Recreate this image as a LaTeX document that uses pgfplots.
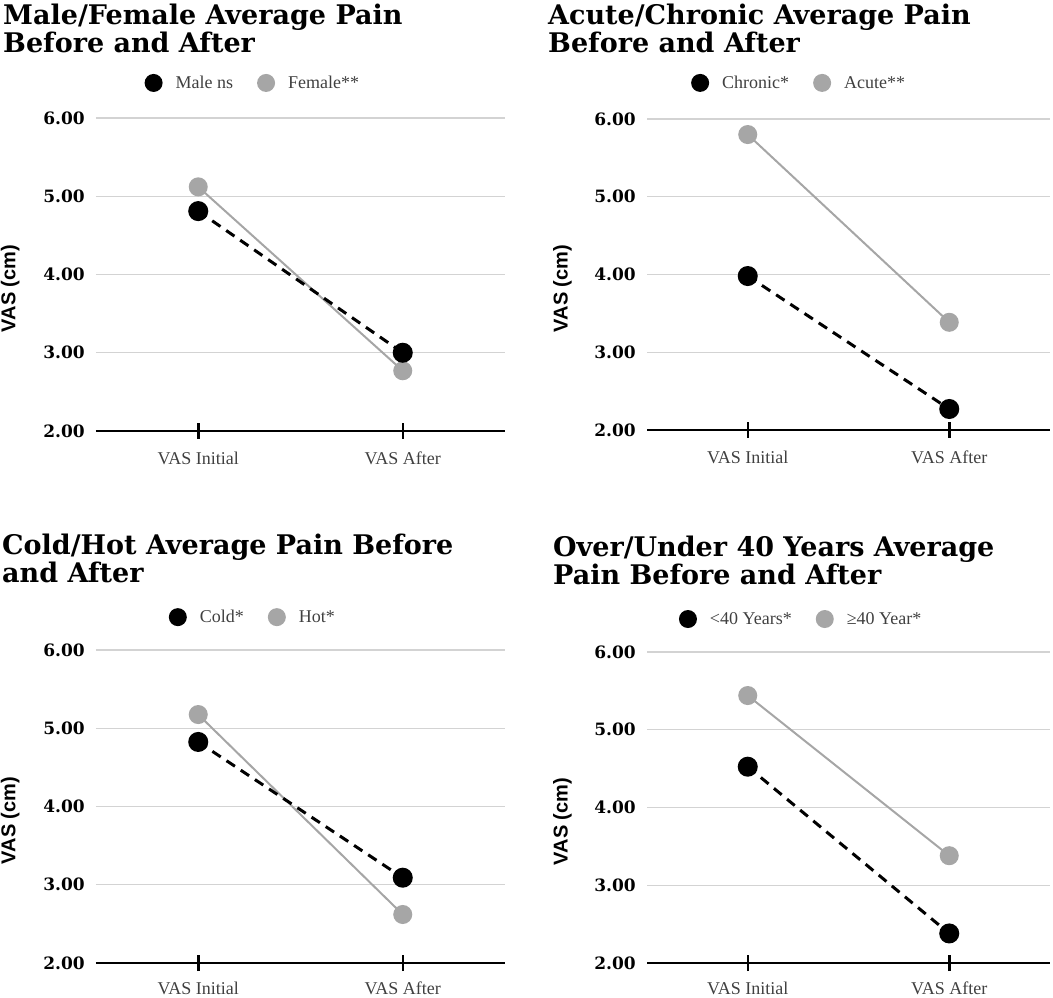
\documentclass[border=0pt]{standalone}
\usepackage{fontspec}
\setmainfont{Liberation Serif}
\newfontfamily\titlefont{DejaVu Serif}
\newfontfamily\labfont{Liberation Sans}
\usepackage{pgfplots}
\pgfplotsset{compat=1.18}
\definecolor{lgray}{HTML}{A6A6A6}
\definecolor{gridc}{HTML}{D3D3D3}
\definecolor{txtc}{HTML}{404040}

\pgfplotsset{
 panel/.style={
  scale only axis,
  xmin=-0.5, xmax=1.5, ymin=2, ymax=6,
  axis lines*=left,
  y axis line style={draw=none},
  x axis line style={line width=2pt, black},
  xtick={0,1}, xticklabels={VAS Initial,VAS After},
  xtick align=center,
  xtick style={black, line width=2.5pt, /pgfplots/major tick length=16pt},
  ytick={2,3,4,5,6}, yticklabels={2.00,3.00,4.00,5.00,6.00},
  ytick style={draw=none},
  ymajorgrids, grid style={line width=1.3pt, gridc},
  xticklabel style={font=\fontsize{18}{18}\selectfont, text=txtc, inner sep=0pt, text height=12pt, text depth=0pt, anchor=north, yshift=-19pt},
  yticklabel style={font=\titlefont\bfseries\fontsize{17}{17}\selectfont, inner sep=0pt, anchor=east, xshift=-11pt},
  every axis y label/.style={at={(axis description cs:-0.21,0.455)}, rotate=90, anchor=center},
  ylabel={VAS (cm)},
  ylabel style={font=\labfont\bfseries\fontsize{20}{20}\selectfont, inner sep=0pt},
  legend columns=2,
  legend style={draw=none, fill=none, font=\fontsize{18}{18}\selectfont, text=txtc, anchor=center, column sep=13pt, nodes={inner sep=0pt}, /tikz/every even column/.append style={column sep=24pt}},
  legend image code/.code={\fill[##1, draw=none] (0pt,0pt) circle (9pt);},
  clip=false,
 },
 bottomrow/.style={xticklabel style={yshift=2pt}},
 blk/.style={black, line width=3pt, dash pattern=on 10pt off 7pt, mark=*, mark size=8.5pt, mark options={solid, fill=black, draw=none}},
 gry/.style={lgray, line width=2pt, mark=*, mark size=8.5pt, mark options={solid, fill=lgray, draw=none}},
}
\newcommand{\ttl}[3]{\node[anchor=base west, inner sep=0pt, font=\titlefont\bfseries\fontsize{27}{27}\selectfont] at (#1,#2) {#3};}

\begin{document}
\begin{tikzpicture}[x=1pt,y=1pt]
\useasboundingbox (0,0) rectangle (1053,997);

\ttl{3}{972}{Male/Female Average Pain}
\ttl{3}{944}{Before and After}
\ttl{548}{972}{Acute/Chronic Average Pain}
\ttl{548}{944}{Before and After}
\ttl{2}{442}{Cold/Hot Average Pain Before}
\ttl{2}{414}{and After}
\ttl{553}{440}{Over/Under 40 Years Average}
\ttl{553}{412}{Pain Before and After}

% Panel 1
\begin{axis}[panel, at={(96pt,566pt)}, anchor=south west, width=409pt, height=313pt,
  legend style={at={(axis description cs:0.381,1.112)}}]
\addlegendimage{fill=black}\addlegendentry{Male ns}
\addlegendimage{fill=lgray}\addlegendentry{Female**}
\addplot[gry, forget plot] coordinates {(0,5.12) (1,2.77)};
\addplot[blk, forget plot] coordinates {(0,4.81) (1,3.00)};
\end{axis}

% Panel 2
\begin{axis}[panel, at={(647pt,567pt)}, anchor=south west, width=403pt, height=311pt,
  legend style={at={(axis description cs:0.375,1.116)}}]
\addlegendimage{fill=black}\addlegendentry{Chronic*}
\addlegendimage{fill=lgray}\addlegendentry{Acute**}
\addplot[gry, forget plot] coordinates {(0,5.80) (1,3.385)};
\addplot[blk, forget plot] coordinates {(0,3.98) (1,2.27)};
\end{axis}

% Panel 3
\begin{axis}[panel, bottomrow, at={(96pt,34pt)}, anchor=south west, width=409pt, height=313pt,
  legend style={at={(axis description cs:0.381,1.105)}}]
\addlegendimage{fill=black}\addlegendentry{Cold*}
\addlegendimage{fill=lgray}\addlegendentry{Hot*}
\addplot[gry, forget plot] coordinates {(0,5.175) (1,2.62)};
\addplot[blk, forget plot] coordinates {(0,4.825) (1,3.09)};
\end{axis}

% Panel 4
\begin{axis}[panel, bottomrow, at={(647pt,34pt)}, anchor=south west, width=403pt, height=311pt,
  legend style={at={(axis description cs:0.38,1.106)}}]
\addlegendimage{fill=black}\addlegendentry{<40 Years*}
\addlegendimage{fill=lgray}\addlegendentry{≥40 Year*}
\addplot[gry, forget plot] coordinates {(0,5.44) (1,3.38)};
\addplot[blk, forget plot] coordinates {(0,4.525) (1,2.38)};
\end{axis}
\end{tikzpicture}
\end{document}
